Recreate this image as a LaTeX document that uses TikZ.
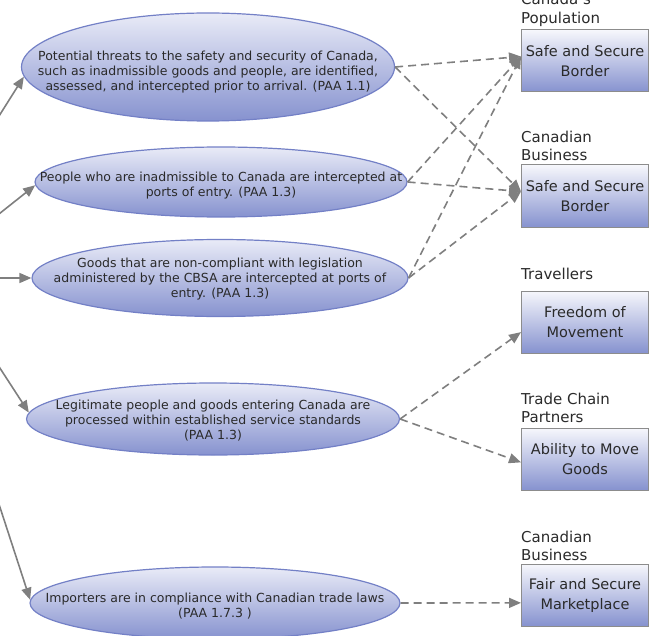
\documentclass[tikz,border=0pt]{standalone}
\usepackage{fontspec}
\setmainfont{DejaVu Sans}
\usepackage{tikz,color}
\usetikzlibrary{shapes.geometric,arrows.meta}
\definecolor{gristexto}{HTML}{2A2A2A}
\definecolor{azulborde}{HTML}{7380C6}
\definecolor{azulclaro}{HTML}{E9EBF7}
\definecolor{azuloscuro}{HTML}{8692CF}
\definecolor{grisflecha}{HTML}{7F7F7F}
\newcommand{\centrado}[2][-4bp]{\makebox[0pt]{\smash{\raisebox{#1}{\begin{tabular}{@{}c@{}}#2\end{tabular}}}}}
\tikzset{
    resultado/.style={ellipse, draw=azulborde, line width=1.2bp, top color=azulclaro, bottom color=azuloscuro, inner sep=0pt, text=gristexto, font=\fontsize{12.5bp}{15bp}\selectfont},
    beneficio/.style={rectangle, draw=gray!90, line width=1bp, top color=white!60!azulclaro, bottom color=azuloscuro, minimum width=127bp, minimum height=62bp, inner sep=0pt, align=center, text=gristexto, font=\fontsize{14.5bp}{20bp}\selectfont},
    grupo/.style={anchor=west, align=left, inner sep=0pt, text=gristexto, font=\fontsize{15bp}{18.5bp}\selectfont},
    entrada/.style={draw=grisflecha, line width=1.6bp, -{Triangle[length=12bp,width=10bp]}},
    salida/.style={entrada, dash pattern=on 8bp off 5bp}
}
\begin{document}
\begin{tikzpicture}[x=1bp,y=-1bp]
            \useasboundingbox (0,0) rectangle (656,636);
            \node[resultado, minimum width=373bp, minimum height=108bp] (amenazas) at (208,67)
            {\centrado[-8bp]{Potential threats to the safety and security of Canada,\\ such as inadmissible goods and people, are identified,\\ assessed, and intercepted prior to arrival. (PAA 1.1)}};
            \node[resultado, minimum width=372bp, minimum height=70bp] (inadmisibles) at (221,182)
            {\centrado[-6.5bp]{People who are inadmissible to Canada are intercepted at\\ ports of entry. (PAA 1.3)}};
            \node[resultado, minimum width=376bp, minimum height=77bp] (mercancia) at (220,278)
            {\centrado{Goods that are non-compliant with legislation\\ administered by the CBSA are intercepted at ports of\\ entry. (PAA 1.3)}};
            \node[resultado, minimum width=373bp, minimum height=72bp] (legitimos) at (213,419)
            {\centrado[-5bp]{Legitimate people and goods entering Canada are\\ processed within established service standards\\ (PAA 1.3)}};
            \node[resultado, minimum width=370bp, minimum height=72bp] (importadores) at (215,603)
            {\centrado[-7bp]{Importers are in compliance with Canadian trade laws\\ (PAA 1.7.3 )}};

            \node[beneficio] (fronterapob) at (585,61) {Safe and Secure\\Border};
            \node[beneficio] (fronteraneg) at (585,196) {Safe and Secure\\Border};
            \node[beneficio] (libertad) at (585,322) {Freedom of\\Movement};
            \node[beneficio] (mercancias) at (585,459) {Ability to Move\\Goods};
            \node[beneficio] (mercado) at (585,595) {Fair and Secure\\Marketplace};

            \node[grupo] (poblacion) at (521,10) {Canada's\\Population};
            \node[grupo] (negocios) at (521,146) {Canadian\\Business};
            \node[grupo] (viajeros) at (521,274) {Travellers};
            \node[grupo] (socios) at (521,408) {Trade Chain\\Partners};
            \node[grupo] (empresas) at (521,546) {Canadian\\Business};

            \coordinate (e1) at (-30,162);
            \coordinate (e2) at (-30,237);
            \coordinate (e3) at (-30,278);
            \coordinate (e4) at (-30,322);
            \coordinate (e5) at (-20,446);
            \draw[entrada] (e1) -- (amenazas.183);
            \draw[entrada] (e2) -- (inadmisibles.181);
            \draw[entrada] (e3) -- (mercancia.west);
            \draw[entrada] (e4) -- (legitimos.178);
            \draw[entrada] (e5) -- (importadores.179);

            \draw[salida] (amenazas.east) -- (fronterapob.176);
            \draw[salida] (amenazas.east) -- (fronteraneg.176);
            \draw[salida] (inadmisibles.east) -- (fronterapob.176);
            \draw[salida] (inadmisibles.east) -- (fronteraneg.176);
            \draw[salida] (mercancia.east) -- (fronterapob.176);
            \draw[salida] (mercancia.east) -- (fronteraneg.176);
            \draw[salida] (legitimos.east) -- (libertad.189);
            \draw[salida] (legitimos.east) -- (mercancias.183);
            \draw[salida] (importadores.east) -- (mercado.187);
        \end{tikzpicture}
\end{document}
